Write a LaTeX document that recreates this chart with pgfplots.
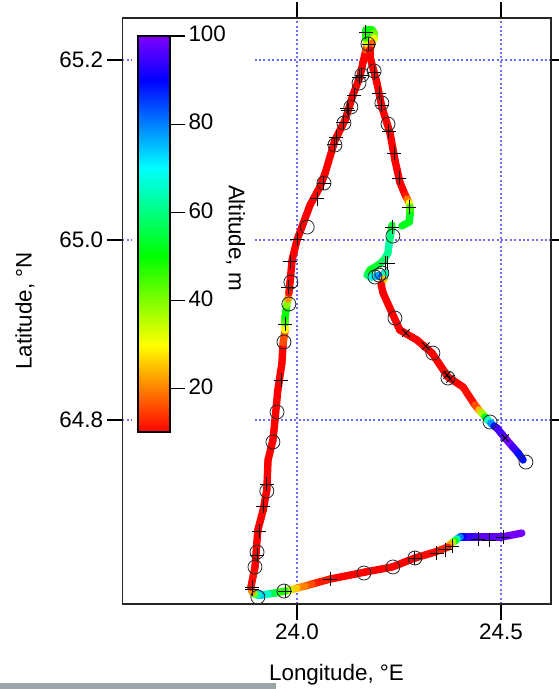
\documentclass[border=0pt]{standalone}
\usepackage{fontspec}
\setmainfont{Liberation Sans}
\usepackage{pgfplots}
\pgfplotsset{compat=1.18}
\usepackage{pgfplotstable}
\newcommand{\lf}{\fontsize{22.4}{26}\selectfont}
\definecolor{gridblue}{RGB}{110,110,255}
\definecolor{footgray}{RGB}{154,166,168}
\pgfplotstableread{
lon lat alt
24.551 64.6744 100
24.502 64.6700 98
24.436 64.6700 97
24.407 64.6700 92
24.400 64.6700 88
24.392 64.6678 72
24.387 64.6656 55
24.382 64.6644 45
24.377 64.6622 32
24.370 64.6589 14
24.338 64.6533 11
24.289 64.6467 10
24.233 64.6367 10
24.167 64.6311 10
24.081 64.6233 10
24.037 64.6178 14
24.020 64.6156 18
24.000 64.6133 22
23.983 64.6111 30
23.971 64.6100 42
23.946 64.6078 52
23.929 64.6067 60
23.914 64.6056 72
23.904 64.6056 76
23.895 64.6067 50
23.890 64.6089 30
23.887 64.6144 12
23.897 64.6367 10
23.904 64.6778 10
23.917 64.7000 10
23.926 64.7222 10
23.929 64.7556 10
23.941 64.7778 10
23.946 64.8000 10
23.953 64.8333 10
23.963 64.8633 10
23.966 64.8856 10
23.971 64.9000 22
23.971 64.9078 38
23.971 64.9144 50
23.973 64.9211 50
23.975 64.9278 48
23.978 64.9344 30
23.980 64.9411 13
23.983 64.9533 10
23.988 64.9778 10
24.000 65.0000 10
24.032 65.0389 10
24.056 65.0589 10
24.069 65.0744 10
24.093 65.1111 10
24.118 65.1333 10
24.137 65.1611 10
24.154 65.1811 10
24.162 65.1978 10
24.169 65.2111 10
24.172 65.2178 25
24.169 65.2244 42
24.169 65.2333 52
24.184 65.2333 50
24.189 65.2300 46
24.189 65.2244 38
24.184 65.2189 24
24.179 65.2111 11
24.179 65.2033 10
24.196 65.1744 10
24.208 65.1478 10
24.228 65.1189 10
24.240 65.0889 10
24.252 65.0644 10
24.265 65.0500 10
24.270 65.0456 14
24.275 65.0411 25
24.277 65.0367 38
24.277 65.0278 52
24.275 65.0200 54
24.257 65.0156 50
}\trackA
\pgfplotstableread{
lon lat alt
24.233 65.0167 50
24.230 65.0078 56
24.225 64.9944 64
24.223 64.9856 62
24.213 64.9778 60
24.199 64.9722 55
24.179 64.9667 52
24.172 64.9611 52
24.181 64.9589 62
24.196 64.9600 72
24.208 64.9600 82
24.216 64.9633 88
24.213 64.9567 40
24.206 64.9511 10
24.211 64.9411 10
24.233 64.9189 10
24.252 64.9000 10
24.294 64.8889 10
24.331 64.8744 10
24.370 64.8478 10
24.407 64.8367 10
24.436 64.8167 12
24.446 64.8111 20
24.453 64.8078 30
24.461 64.8033 45
24.468 64.8000 60
24.475 64.7967 72
24.483 64.7933 85
24.490 64.7911 92
24.510 64.7800 99
24.529 64.7700 98
24.542 64.7633 92
24.554 64.7556 86
}\trackB
\pgfplotstableread{
lon lat
24.169 65.2311
24.176 65.2178
24.159 65.1833
24.152 65.1811
24.189 65.1856
24.201 65.1633
24.208 65.1500
24.225 65.1211
24.238 65.0967
24.250 65.0689
24.275 65.0367
24.233 65.0144
24.140 65.1611
24.125 65.1444
24.123 65.1467
24.113 65.1311
24.096 65.1144
24.091 65.1067
24.066 65.0633
24.049 65.0456
24.000 65.0011
24.223 64.9744
24.218 64.9744
23.983 64.9756
23.978 64.9478
23.971 64.9067
23.961 64.8444
23.926 64.7289
23.917 64.7044
23.907 64.6767
23.902 64.6500
23.890 64.6144
23.890 64.6122
23.971 64.6100
24.081 64.6233
24.289 64.6467
24.343 64.6522
24.363 64.6556
24.380 64.6600
24.444 64.6678
24.471 64.6667
24.505 64.6700
}\plusmarks
\pgfplotstableread{
lon lat
24.267 64.8967
24.316 64.8822
24.368 64.8500
24.375 64.8456
24.510 64.7800
}\xmarks
\pgfplotstableread{
lon lat
24.174 65.2178
24.189 65.1878
24.159 65.1833
24.152 65.1744
24.132 65.1478
24.115 65.1300
24.093 65.1056
24.066 65.0633
24.208 65.1522
24.223 65.1289
24.235 65.0044
24.025 65.0144
24.208 64.9633
24.201 64.9611
24.191 64.9589
24.240 64.9133
24.333 64.8744
24.370 64.8467
24.473 64.7978
24.561 64.7533
23.985 64.9533
23.980 64.9289
23.968 64.8867
23.951 64.8089
23.941 64.7756
23.926 64.7211
23.902 64.6533
23.897 64.6367
23.904 64.6033
23.968 64.6100
24.164 64.6300
24.235 64.6367
24.289 64.6467
}\circmarks
\pgfplotstableread{
c v
0 10
1 10
0 30
1 30
0 50
1 50
0 70
1 70
0 90
1 90
0 100
1 100
}\cbar
\pgfplotsset{altmap/.style={colormap={alt}{rgb255(10cm)=(255,0,0) rgb255(30cm)=(255,255,0) rgb255(50cm)=(0,255,0) rgb255(70cm)=(0,255,255) rgb255(90cm)=(0,0,255) rgb255(100cm)=(128,0,255)}, point meta min=10, point meta max=100}}
\begin{document}
\begin{tikzpicture}
\useasboundingbox (0pt,0pt) rectangle (558pt,689pt);
\fill[footgray] (0pt,0pt) rectangle (276pt,5.5pt);
\begin{axis}[
  at={(122.5pt,85pt)}, anchor=south west,
  scale only axis, width=428.5pt, height=586pt,
  xmin=23.5723, xmax=24.6225, ymin=64.5956, ymax=65.2467,
  xtick={24,24.5}, ytick={64.8,65,65.2},
  tick align=outside, xtick pos=both, ytick pos=both,
  xticklabel pos=bottom, yticklabel pos=left,
  major tick length=16pt,
  tick style={line width=1.2pt,black},
  axis line style={line width=1.4pt,black!85},
  xmajorgrids, ymajorgrids,
  major grid style={line width=1.9pt,color=gridblue,dash pattern=on 2pt off 2.4pt},
  tick label style={font=\lf},
  x tick label style={/pgf/number format/fixed,/pgf/number format/fixed zerofill,/pgf/number format/precision=1,/pgf/number format/assume math mode=true},
  y tick label style={/pgf/number format/fixed,/pgf/number format/fixed zerofill,/pgf/number format/precision=1,/pgf/number format/assume math mode=true},
  xlabel={Longitude, °E}, ylabel={Latitude, °N},
  label style={font=\lf},
  xlabel style={at={(axis description cs:0.4994,-0.121)},anchor=center},
  ylabel style={at={(axis description cs:-0.2275,0.5)},anchor=center},
  altmap,
]
\fill[white] (axis cs:23.5944,65.235) rectangle (axis cs:23.8958,64.77);
\addplot[mesh,line width=7.4pt,line cap=round,point meta=explicit] table[x=lon,y=lat,meta=alt] {\trackA};
\addplot[mesh,line width=7.4pt,line cap=round,point meta=explicit] table[x=lon,y=lat,meta=alt] {\trackB};
\addplot[only marks,mark=+,mark size=7pt,mark options={line width=1pt,black}] table[x=lon,y=lat] {\plusmarks};
\addplot[only marks,mark=x,mark size=5.2pt,mark options={line width=1pt,black}] table[x=lon,y=lat] {\xmarks};
\addplot[only marks,mark=o,mark size=7pt,mark options={line width=0.8pt,black!85,fill=none}] table[x=lon,y=lat] {\circmarks};
\end{axis}
\begin{axis}[
  at={(138pt,257pt)}, anchor=south west,
  scale only axis, width=32pt, height=396pt,
  xmin=0, xmax=1, ymin=10.2, ymax=100,
  xtick=\empty,
  ytick={20,40,60,80,100},
  ytick pos=right, yticklabel pos=right, tick align=outside,
  major tick length=15pt,
  tick style={line width=1.2pt,black},
  axis line style={line width=1.5pt,black},
  axis on top,
  y tick label style={font=\lf,yshift=2pt,/pgf/number format/fixed,/pgf/number format/precision=0,/pgf/number format/assume math mode=true},
  ylabel={Altitude, m},
  ylabel style={font=\lf,at={(axis description cs:3.05,0.49)},anchor=center,rotate=180},
  altmap,
]
\addplot[surf,shader=interp,mesh/rows=6,mesh/cols=2,point meta=y] table[x=c,y=v] {\cbar};
\end{axis}
\end{tikzpicture}
\end{document}
